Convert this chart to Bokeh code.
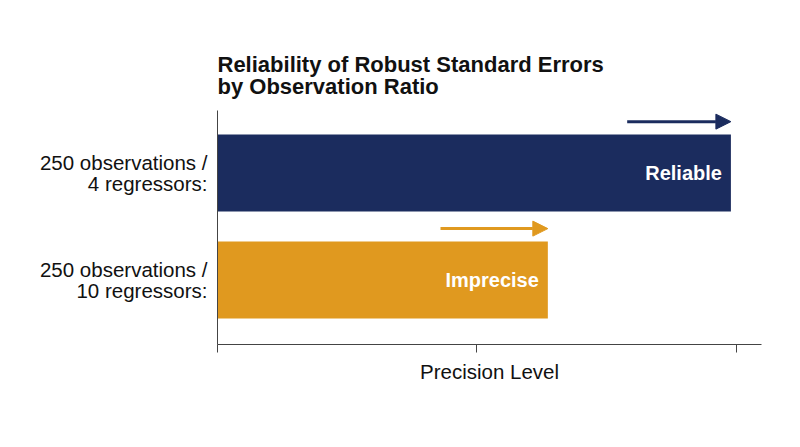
from bokeh.plotting import figure
from bokeh.models import Range1d, FixedTicker, ColumnDataSource, Arrow, NormalHead, Title
from bokeh.core.properties import value
from bokeh.embed import file_html
from bokeh.resources import INLINE

# ---- data ----
categories = ["250 observations /\n4 regressors:", "250 observations /\n10 regressors:"]
positions = [1, 0]
precision = [0.99, 0.637]
arrow_start = [0.79, 0.43]
status_labels = ["Reliable", "Imprecise"]
colors = ["#1b2c5e", "#e0991f"]
x_ticks = [0, 0.5, 1.0]

FONT = "Liberation Sans"
ARROW_DY = 0.48

src = ColumnDataSource(dict(
    y=positions, v=precision, lab=status_labels, c=colors,
))

p = figure(width=800, height=447, output_backend="svg", toolbar_location=None,
           x_range=Range1d(0, 1.049), y_range=Range1d(-0.603, 1.584),
           min_border_left=217, min_border_right=39, min_border_top=110, min_border_bottom=103)

p.title = Title(text="Reliability of Robust Standard Errors\nby Observation Ratio",
                text_font=FONT, text_font_size="22px", text_font_style="bold",
                text_color="#111111", align="left", text_line_height=0.86, standoff=24)

p.hbar(y="y", left=0, right="v", height=0.72, fill_color="c", line_color=None, source=src)

p.text(x="v", y="y", text="lab", source=src, text_color="white",
       text_font=value(FONT), text_font_size="20px", text_font_style="bold",
       text_align="right", text_baseline="middle", x_offset=-9)

for i in range(len(positions)):
    c = colors[i]
    p.add_layout(Arrow(end=NormalHead(size=15, fill_color=c, line_color=c),
                       x_start=arrow_start[i], y_start=positions[i] + ARROW_DY,
                       x_end=precision[i], y_end=positions[i] + ARROW_DY,
                       line_color=c, line_width=3))

p.xgrid.grid_line_color = None
p.ygrid.grid_line_color = None
p.outline_line_color = None

xa = p.xaxis[0]
xa.ticker = FixedTicker(ticks=x_ticks)
xa.major_label_overrides = {t: "" for t in x_ticks}
xa.major_tick_out = 8
xa.major_tick_in = 0
xa.minor_tick_line_color = None
xa.axis_line_color = "#444444"
xa.major_tick_line_color = "#444444"
xa.axis_label = "Precision Level"
xa.axis_label_text_font = FONT
xa.axis_label_text_font_size = "20.5px"
xa.axis_label_text_font_style = "normal"
xa.axis_label_text_color = "#111111"
xa.axis_label_standoff = 7

ya = p.yaxis[0]
ya.ticker = FixedTicker(ticks=positions)
ya.major_label_overrides = {positions[i]: categories[i] for i in range(len(positions))}
ya.major_tick_line_color = None
ya.minor_tick_line_color = None
ya.axis_line_color = "#444444"
ya.major_label_text_font = FONT
ya.major_label_text_font_size = "20.5px"
ya.major_label_text_color = "#111111"
ya.major_label_standoff = 4
ya.major_label_text_line_height = 0.94

open("out.html", "w").write(file_html(p, INLINE))
